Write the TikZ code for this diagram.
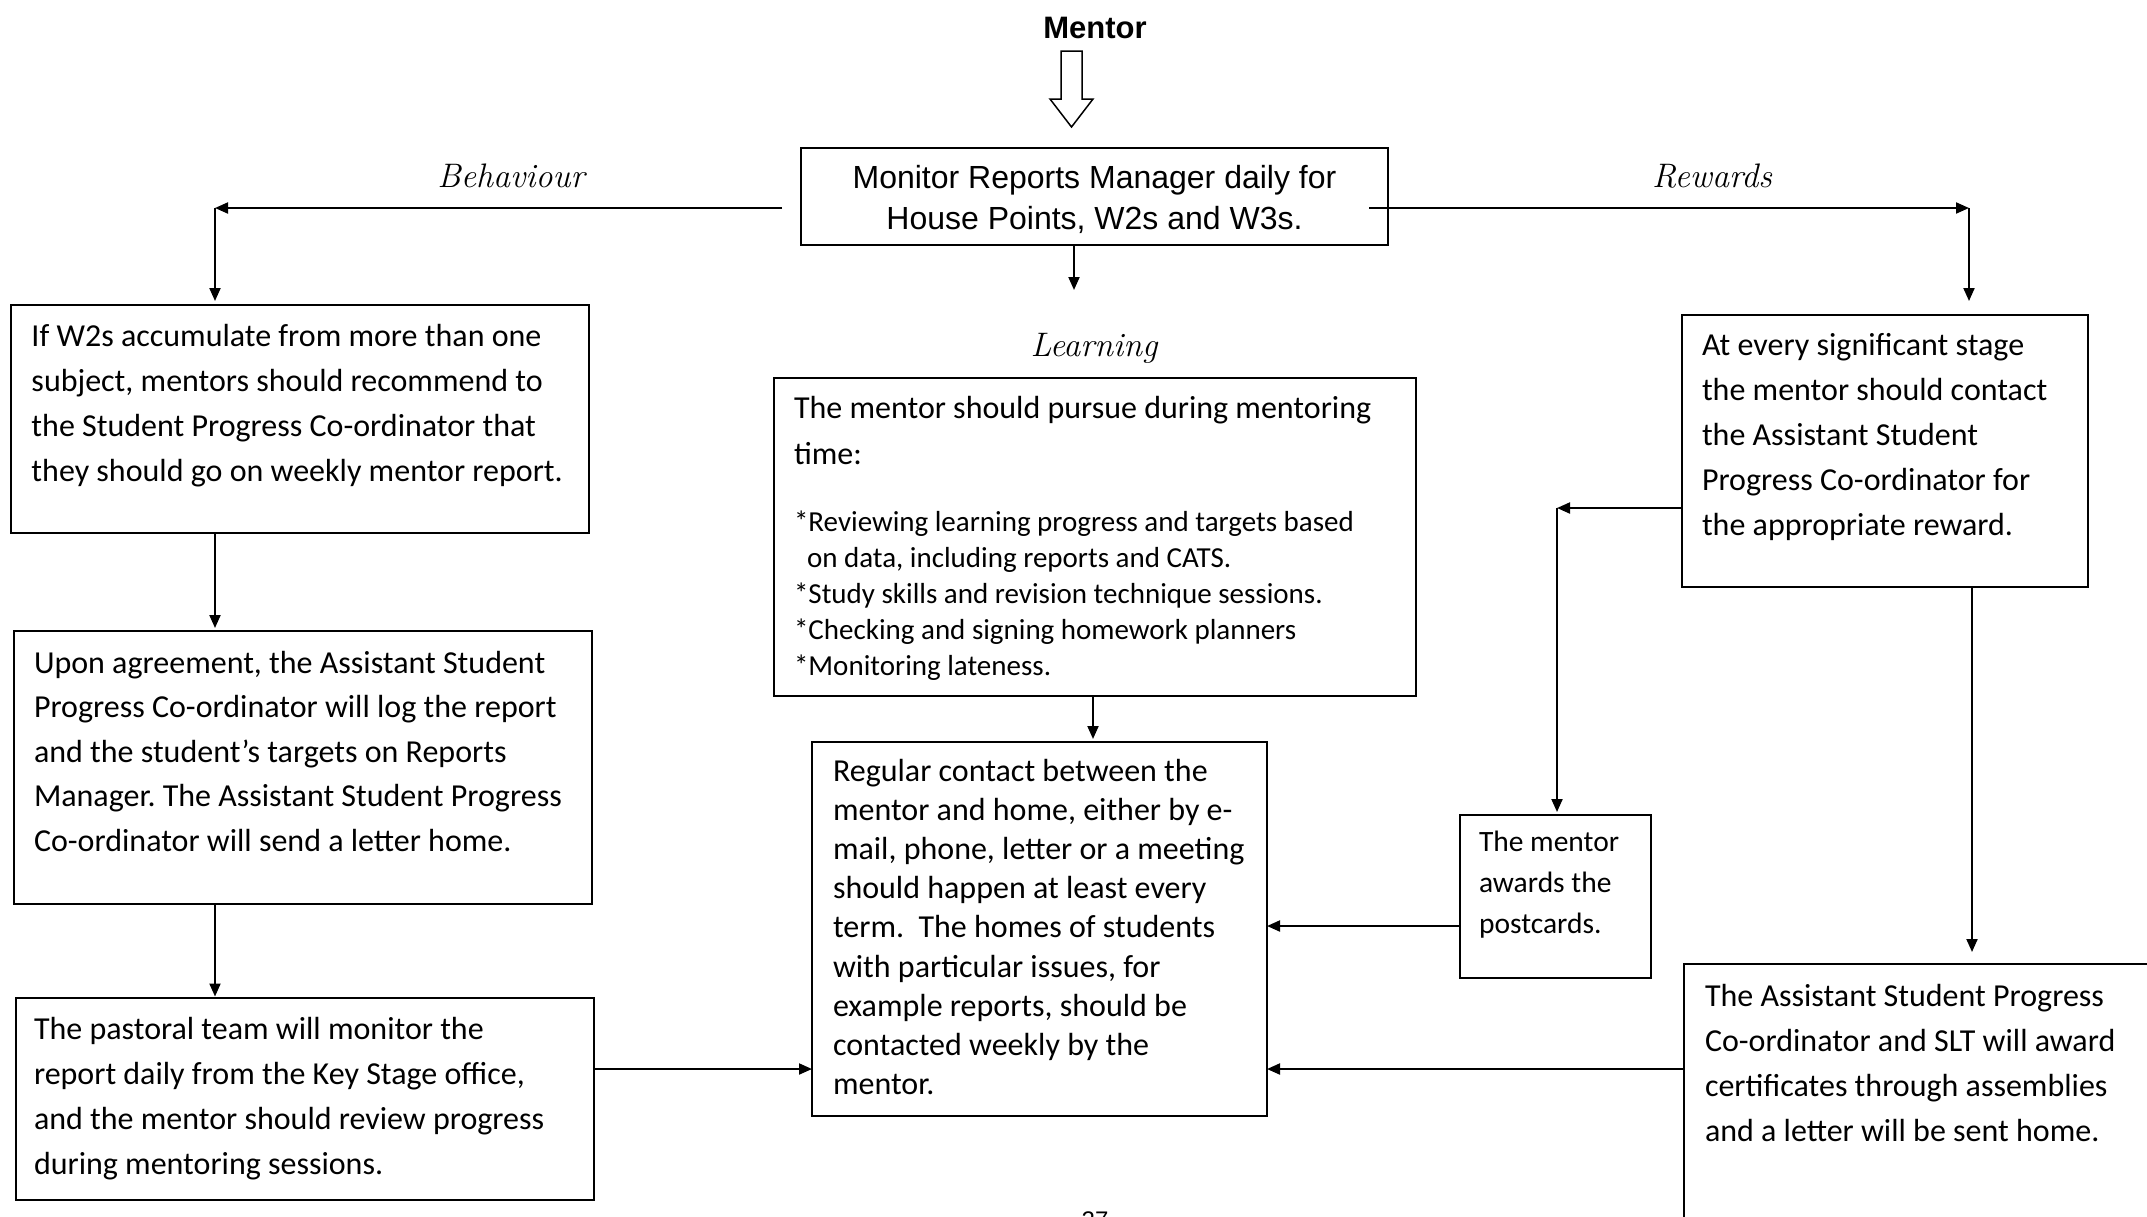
\documentclass[tikz,border=0pt]{standalone}
\usepackage{fontspec}
\newfontfamily\carlito{Carlito}
\newfontfamily\arialf{Liberation Sans}
\usetikzlibrary{arrows.meta}
\frenchspacing
\newcommand{\boxcontent}[5]{\parbox[c][#2][t]{#1}{\raggedright\leftskip=#3\relax\rule{0pt}{#4}#5}}
\begin{document}
\begin{tikzpicture}[x=1pt,y=-1pt,
  bx/.style={draw, line width=2pt, inner sep=0pt, outer sep=0pt, anchor=north west},
  txtA/.style={font=\carlito\fontsize{32}{45}\selectfont},
  arr/.style={line width=2pt, -{Triangle[length=13pt,width=11pt]}},
  lab/.style={font=\fontsize{34}{40}\selectfont\itshape, inner sep=0pt, anchor=base}
]
\useasboundingbox (0,0) rectangle (2147,1216);
\clip (0,0) rectangle (2147,1216);
\fill[white] (0,0) rectangle (2147,1216);

% title and hollow arrow
\node[font=\arialf\bfseries\fontsize{31}{36}\selectfont, inner sep=0pt, anchor=base] (mentor) at (1095,38.5) {Mentor};
\draw[line width=1.5pt] (1061,51) -- (1082,51) -- (1082,99) -- (1093,99) -- (1071.5,127) -- (1050,99) -- (1061,99) -- cycle;

% main box
\node[bx, font=\arialf\fontsize{32}{41}\selectfont] (M) at (801,148)
  {\parbox[c][97pt][t]{587pt}{\centering\rule{0pt}{40pt}Monitor Reports Manager daily for\\House Points, W2s and W3s.}};

% labels
\node[lab] (lb) at (511,187.6) {Behaviour};
\node[lab] (lr) at (1712,187.6) {Rewards};
\node[lab] (ll) at (1094,356) {Learning};

% behaviour column
\node[bx, txtA] (B1) at (11,305)
  {\boxcontent{578pt}{228pt}{20.5pt}{41pt}{If W2s accumulate from more than one\\subject, mentors should recommend to\\the Student Progress Co-ordinator that\\they should go on weekly mentor report.}};
\node[bx, font=\carlito\fontsize{32}{44.5}\selectfont] (B2) at (14,631)
  {\boxcontent{578pt}{273pt}{20pt}{42pt}{Upon agreement, the Assistant Student\\Progress Co-ordinator will log the report\\and the student’s targets on Reports\\Manager. The Assistant Student Progress\\Co-ordinator will send a letter home.}};
\node[bx, txtA] (B3) at (16,998)
  {\boxcontent{578pt}{202pt}{18pt}{41pt}{The pastoral team will monitor the\\report daily from the Key Stage office,\\and the mentor should review progress\\during mentoring sessions.}};

% learning column
\node[bx, font=\carlito\fontsize{32}{46}\selectfont] (L1) at (774,378)
  {\boxcontent{642pt}{318pt}{20pt}{40pt}{The mentor should pursue during mentoring\\time:\par\fontsize{29}{36}\selectfont\vspace{31pt}{*}Reviewing learning progress and targets based\\\hspace*{13pt}on data, including reports and CATS.\\{*}Study skills and revision technique sessions.\\{*}Checking and signing homework planners\\{*}Monitoring lateness.}};
\node[bx, font=\carlito\fontsize{32}{39.2}\selectfont] (R) at (812,742)
  {\boxcontent{455pt}{374pt}{21pt}{39pt}{Regular contact between the\\mentor and home, either by e-\\mail, phone, letter or a meeting\\should happen at least every\\term.~ The homes of students\\with particular issues, for\\example reports, should be\\contacted weekly by the\\mentor.}};

% rewards column
\node[bx, txtA] (W1) at (1682,315)
  {\boxcontent{406pt}{272pt}{20pt}{40pt}{At every significant stage\\the mentor should contact\\the Assistant Student\\Progress Co-ordinator for\\the appropriate reward.}};
\node[bx, font=\carlito\fontsize{29.5}{41}\selectfont] (P) at (1460,815)
  {\boxcontent{191pt}{163pt}{19pt}{36pt}{The mentor\\awards the\\postcards.}};
\node[bx, txtA] (W2) at (1684,964)
  {\boxcontent{600pt}{400pt}{21pt}{42pt}{The Assistant Student Progress\\Co-ordinator and SLT will award\\certificates through assemblies\\and a letter will be sent home.}};

% page number (cut off at the page edge, as in the reference)
\node[font=\arialf\fontsize{24}{28}\selectfont, inner sep=0pt, anchor=north] (pg) at (1095,1212) {27};

% connectors
\coordinate (cL) at (215,208);
\coordinate (cR) at (1969,208);
\coordinate (mLs) at (782,208);
\coordinate (mRs) at (1369,208);
\draw[arr] (mLs) -- (cL);
\draw[arr, shorten >=4pt] (cL) -- (B1.north -| cL);
\draw[arr] (mRs) -- (cR);
\draw[arr, shorten >=14pt] (cR) -- (W1.north -| cR);
\coordinate (xM) at (1074,0);
\coordinate (mMe) at (1074,290);
\draw[arr] (M.south -| xM) -- (mMe);

\coordinate (xB) at (215,0);
\draw[arr, shorten >=3pt] (B1.south -| xB) -- (B2.north -| xB);
\draw[arr, shorten >=1.5pt] (B2.south -| xB) -- (B3.north -| xB);
\coordinate (yLow) at (0,1069);
\draw[arr] (B3.east |- yLow) -- (R.west |- yLow);
\coordinate (xL) at (1093,0);
\draw[arr, shorten >=3pt] (L1.south -| xL) -- (R.north -| xL);
\coordinate (cP) at (1557,508);
\draw[arr] (W1.west |- cP) -- (cP);
\draw[arr, shorten >=3pt] (cP) -- (P.north -| cP);
\coordinate (yP) at (0,926);
\draw[arr] (P.west |- yP) -- (R.east |- yP);
\coordinate (xW) at (1972,0);
\draw[arr, shorten >=12pt] (W1.south -| xW) -- (W2.north -| xW);
\draw[arr] (W2.west |- yLow) -- (R.east |- yLow);
\end{tikzpicture}
\end{document}
